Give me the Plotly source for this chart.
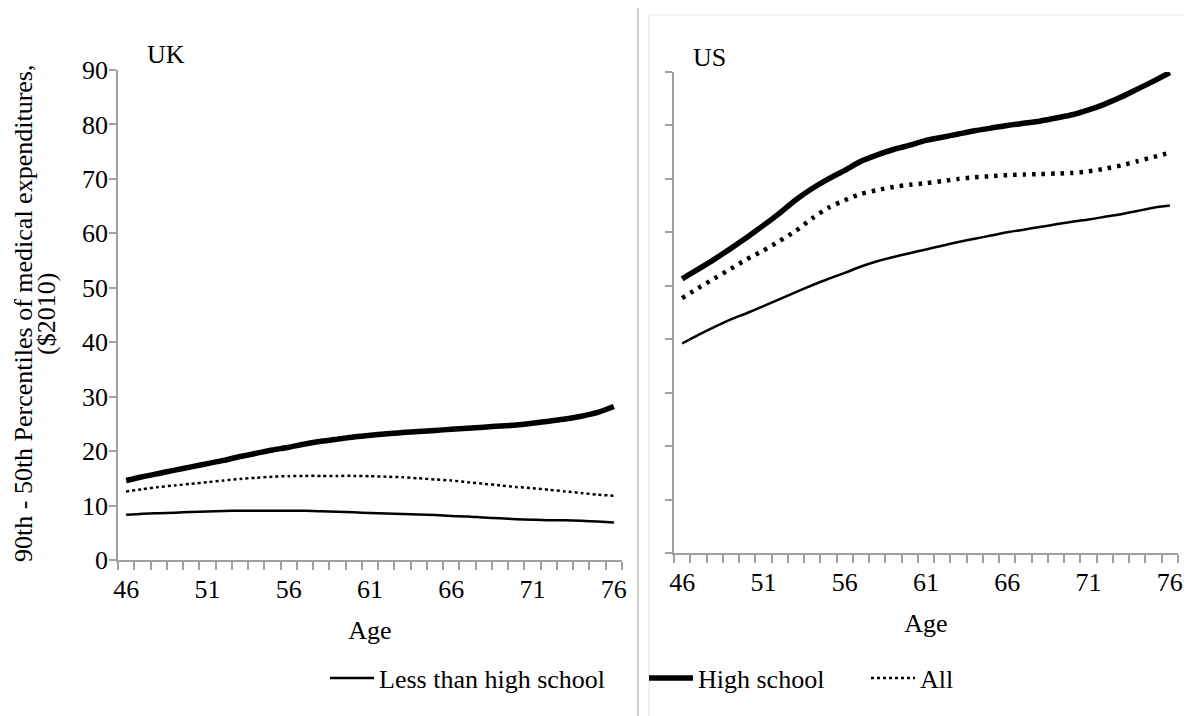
import plotly.graph_objects as go

AGES = list(range(46, 77))
TICK_AGES = [46, 51, 56, 61, 66, 71, 76]
Y_TICKS = [0, 10, 20, 30, 40, 50, 60, 70, 80, 90]

SERIES_NAMES = ["Less than high school", "High school", "All"]

UK_LESS_HS = [8.3, 8.5, 8.6, 8.7, 8.8, 8.9, 9.0, 9.05, 9.05, 9.05, 9.05, 9.05, 8.95, 8.85, 8.75, 8.65,
              8.55, 8.45, 8.35, 8.25, 8.1, 8.0, 7.8, 7.65, 7.5, 7.4, 7.3, 7.3, 7.2, 7.05, 6.9]
UK_HS = [14.6, 15.3, 15.9, 16.5, 17.1, 17.7, 18.3, 19.0, 19.6, 20.2, 20.7, 21.3, 21.8, 22.2, 22.6, 22.9,
         23.2, 23.4, 23.6, 23.8, 24.0, 24.2, 24.4, 24.6, 24.8, 25.1, 25.5, 25.9, 26.4, 27.1, 28.2]
UK_ALL = [12.6, 13.0, 13.4, 13.7, 14.0, 14.3, 14.6, 14.9, 15.1, 15.3, 15.4, 15.45, 15.45, 15.45, 15.45, 15.4,
          15.3, 15.2, 15.0, 14.8, 14.6, 14.3, 14.0, 13.7, 13.4, 13.2, 12.9, 12.6, 12.3, 12.0, 11.8]

US_LESS_HS = [39.2, 40.8, 42.3, 43.7, 44.9, 46.2, 47.5, 48.8, 50.1, 51.3, 52.4, 53.6, 54.6, 55.4, 56.1, 56.8,
              57.5, 58.2, 58.8, 59.4, 60.0, 60.5, 61.0, 61.5, 62.0, 62.4, 62.9, 63.4, 64.0, 64.6, 65.0]
US_HS = [51.3, 53.1, 55.0, 57.0, 59.1, 61.3, 63.6, 66.1, 68.2, 70.0, 71.6, 73.3, 74.5, 75.5, 76.3, 77.2,
         77.8, 78.4, 79.0, 79.5, 80.0, 80.4, 80.8, 81.4, 82.0, 82.9, 84.0, 85.3, 86.8, 88.3, 89.9]
US_ALL = [47.7, 49.6, 51.4, 53.2, 55.0, 56.6, 58.4, 60.3, 62.6, 64.6, 66.0, 67.2, 67.9, 68.5, 68.9, 69.2,
          69.6, 70.0, 70.3, 70.5, 70.7, 70.8, 70.9, 71.0, 71.1, 71.4, 71.9, 72.5, 73.3, 74.1, 74.9]

# The page body adds an 8px offset, so the figure is sized to fill the rest of the window.
OFF = 8
W, H = 1192 - OFF, 716 - OFF
FONT = "Liberation Serif, Times New Roman, serif"
FS = 26
AXIS_GREY = "#a0a0a0"


def px_x(p):
    return (p - OFF) / W


def px_y(p):
    return (H - (p - OFF)) / H


fig = go.Figure()

uk_styles = [dict(width=2.5), dict(width=5.5), dict(width=2.5, dash="dot")]
us_styles = [dict(width=2.5), dict(width=5.5), dict(width=4.5, dash="3.5px,6px")]
legend_ids = ["legend", "legend2", "legend3"]

for name, vals, st, lg in zip(SERIES_NAMES, [UK_LESS_HS, UK_HS, UK_ALL], uk_styles, legend_ids):
    fig.add_trace(go.Scatter(x=AGES, y=vals, name=name, mode="lines",
                             line=dict(color="black", shape="spline", smoothing=0.6, **st),
                             xaxis="x", yaxis="y", showlegend=True, legend=lg))
for name, vals, st in zip(SERIES_NAMES, [US_LESS_HS, US_HS, US_ALL], us_styles):
    fig.add_trace(go.Scatter(x=AGES, y=vals, name=name, mode="lines",
                             line=dict(color="black", shape="spline", smoothing=0.6, **st),
                             xaxis="x2", yaxis="y2", showlegend=False))

xcommon = dict(range=[45.5, 76.5], tickmode="array", tickvals=TICK_AGES,
               ticktext=[str(t) for t in TICK_AGES], ticks="", showline=True, automargin=False,
               linecolor=AXIS_GREY, linewidth=1.5, showgrid=False, zeroline=False,
               tickfont=dict(family=FONT, size=FS, color="black"), ticklabelstandoff=5,
               minor=dict(ticks="outside", ticklen=8, tickwidth=1.5, tickcolor=AXIS_GREY,
                          tick0=45.5, dtick=1, showgrid=False),
               title=dict(text="Age", font=dict(family=FONT, size=FS, color="black"), standoff=18))
ycommon = dict(range=[0, 90], tickmode="array", tickvals=Y_TICKS, ticks="outside", ticklen=7,
               tickwidth=1.5, tickcolor=AXIS_GREY, showline=True, linecolor=AXIS_GREY, linewidth=1.5,
               showgrid=False, zeroline=False, automargin=False, ticklabelstandoff=-4,
               tickfont=dict(family=FONT, size=FS, color="black"))

legend_common = dict(orientation="h", xanchor="left", yanchor="middle", y=px_y(678), itemwidth=44,
                     font=dict(family=FONT, size=FS, color="black"), bgcolor="rgba(0,0,0,0)")

fig.update_layout(
    width=W, height=H, autosize=False,
    margin=dict(l=0, r=0, t=0, b=0, pad=0),
    paper_bgcolor="white", plot_bgcolor="white",
    font=dict(family=FONT, size=FS, color="black"),
    xaxis=dict(domain=[px_x(118), px_x(622)], anchor="y", **xcommon),
    yaxis=dict(domain=[px_y(560), px_y(70)], anchor="x", showticklabels=True, **ycommon),
    xaxis2=dict(domain=[px_x(674), px_x(1178)], anchor="y2", **xcommon),
    yaxis2=dict(domain=[px_y(553), px_y(72)], anchor="x2", showticklabels=False, **ycommon),
    legend=dict(x=px_x(325), **legend_common),
    legend2=dict(x=px_x(644), **legend_common),
    legend3=dict(x=px_x(866), **legend_common),
    shapes=[
        dict(type="line", xref="paper", yref="paper", x0=px_x(638), x1=px_x(638), y0=0, y1=1,
             line=dict(color="#c0c0c0", width=1.5), layer="below"),
        dict(type="line", xref="paper", yref="paper", x0=px_x(649), x1=px_x(649), y0=0, y1=px_y(15),
             line=dict(color="#e8e8e8", width=1.2), layer="below"),
        dict(type="line", xref="paper", yref="paper", x0=px_x(649), x1=1, y0=px_y(15), y1=px_y(15),
             line=dict(color="#e8e8e8", width=1.2), layer="below"),
    ],
    annotations=[
        dict(text="UK", xref="paper", yref="paper", x=px_x(166), y=px_y(55), showarrow=False,
             xanchor="center", yanchor="middle", font=dict(family=FONT, size=FS, color="black")),
        dict(text="US", xref="paper", yref="paper", x=px_x(709), y=px_y(57), showarrow=False,
             xanchor="center", yanchor="middle", font=dict(family=FONT, size=FS, color="black")),
        dict(text="90th - 50th Percentiles of medical expenditures,", xref="paper", yref="paper",
             x=px_x(24), y=px_y(314), textangle=-90, showarrow=False, xanchor="center", yanchor="middle",
             font=dict(family=FONT, size=FS, color="black")),
        dict(text="($2010)", xref="paper", yref="paper",
             x=px_x(47), y=px_y(314), textangle=-90, showarrow=False, xanchor="center", yanchor="middle",
             font=dict(family=FONT, size=FS, color="black")),
    ],
)

fig.write_html("out.html")
